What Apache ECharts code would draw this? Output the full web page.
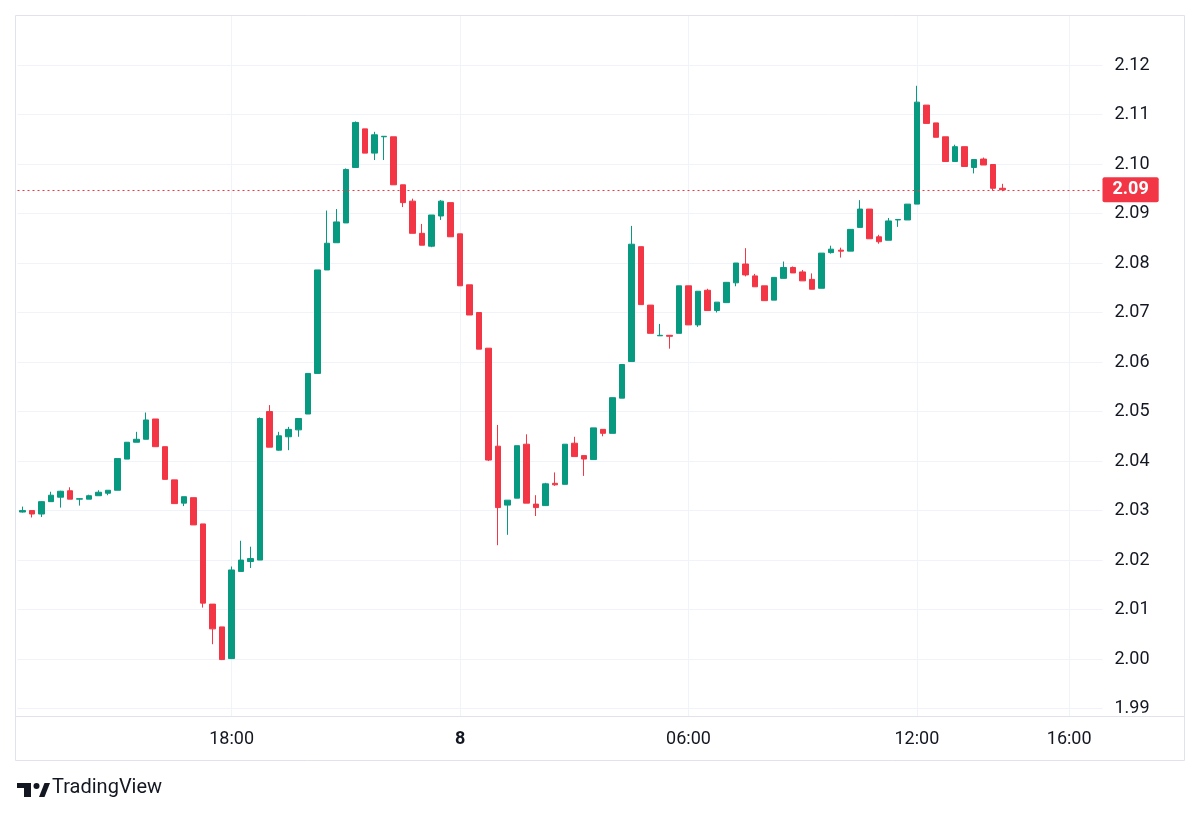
<!DOCTYPE html>
<html>
<head>
<meta charset="utf-8">
<title>15m chart</title>
<script src="https://cdn.jsdelivr.net/npm/echarts@6/dist/echarts.min.js"></script>
<style>
html, body { margin: 0; padding: 0; background: #fff; }
#chart { width: 1200px; height: 817px; }
</style>
</head>
<body>
<div id="chart"></div>
<script>
'use strict';

// 15 minute candles, day 7 12:30 -> day 8 14:15
var startDay = 7, startMinute = 12 * 60 + 30, stepMinute = 15;
var slotCount = 114;  // time axis keeps going (empty) up to 16:45

var opens = [
	2.0297, 2.0300, 2.0293, 2.0318, 2.0327, 2.0340, 2.0323, 2.0323, 2.0330, 2.0335,
	2.0341, 2.0404, 2.0438, 2.0444, 2.0485, 2.0429, 2.0362, 2.0315, 2.0326, 2.0273,
	2.0111, 2.0065, 2.0001, 2.0177, 2.0197, 2.0200, 2.0500, 2.0422, 2.0449, 2.0463,
	2.0495, 2.0577, 2.0786, 2.0841, 2.0881, 2.0993, 2.1071, 2.1022, 2.1055, 2.1055,
	2.0958, 2.0925, 2.0860, 2.0834, 2.0895, 2.0922, 2.0859, 2.0756, 2.0700, 2.0628,
	2.0430, 2.0311, 2.0325, 2.0434, 2.0313, 2.0310, 2.0355, 2.0353, 2.0436, 2.0411,
	2.0403, 2.0464, 2.0456, 2.0527, 2.0601, 2.0833, 2.0715, 2.0653, 2.0654, 2.0658,
	2.0754, 2.0675, 2.0745, 2.0704, 2.0720, 2.0760, 2.0798, 2.0774, 2.0754, 2.0725,
	2.0769, 2.0791, 2.0782, 2.0767, 2.0749, 2.0821, 2.0826, 2.0824, 2.0872, 2.0909,
	2.0853, 2.0846, 2.0887, 2.0887, 2.0919, 2.1119, 2.1083, 2.1055, 2.1005, 2.1035,
	2.0993, 2.1010, 2.0999, 2.0951
];
var closes = [
	2.0300, 2.0293, 2.0318, 2.0331, 2.0339, 2.0323, 2.0324, 2.0330, 2.0337, 2.0341,
	2.0405, 2.0438, 2.0444, 2.0483, 2.0429, 2.0363, 2.0314, 2.0328, 2.0271, 2.0113,
	2.0061, 1.9999, 2.0180, 2.0200, 2.0203, 2.0486, 2.0428, 2.0451, 2.0464, 2.0486,
	2.0577, 2.0786, 2.0840, 2.0883, 2.0989, 2.1084, 2.1022, 2.1059, 2.1056, 2.0958,
	2.0922, 2.0860, 2.0836, 2.0897, 2.0925, 2.0853, 2.0754, 2.0695, 2.0626, 2.0402,
	2.0306, 2.0321, 2.0431, 2.0315, 2.0306, 2.0354, 2.0352, 2.0434, 2.0409, 2.0404,
	2.0467, 2.0456, 2.0528, 2.0595, 2.0838, 2.0716, 2.0658, 2.0654, 2.0652, 2.0754,
	2.0675, 2.0743, 2.0704, 2.0721, 2.0761, 2.0800, 2.0776, 2.0752, 2.0724, 2.0771,
	2.0791, 2.0780, 2.0764, 2.0747, 2.0820, 2.0828, 2.0824, 2.0868, 2.0909, 2.0849,
	2.0843, 2.0885, 2.0888, 2.0919, 2.1125, 2.1082, 2.1054, 2.1005, 2.1035, 2.0995,
	2.1009, 2.0998, 2.0951, 2.0948
];
var lows = [
	2.0296, 2.0286, 2.0287, 2.0318, 2.0306, 2.0323, 2.0310, 2.0323, 2.0330, 2.0331,
	2.0341, 2.0404, 2.0438, 2.0444, 2.0429, 2.0363, 2.0314, 2.0309, 2.0271, 2.0104,
	2.0030, 1.9998, 2.0000, 2.0177, 2.0184, 2.0200, 2.0428, 2.0421, 2.0422, 2.0449,
	2.0495, 2.0577, 2.0786, 2.0841, 2.0881, 2.0993, 2.1022, 2.1008, 2.1008, 2.0958,
	2.0913, 2.0860, 2.0836, 2.0832, 2.0887, 2.0853, 2.0754, 2.0695, 2.0626, 2.0400,
	2.0230, 2.0251, 2.0325, 2.0315, 2.0289, 2.0310, 2.0350, 2.0353, 2.0409, 2.0370,
	2.0403, 2.0450, 2.0456, 2.0527, 2.0601, 2.0716, 2.0658, 2.0653, 2.0627, 2.0658,
	2.0675, 2.0671, 2.0704, 2.0700, 2.0720, 2.0753, 2.0773, 2.0752, 2.0724, 2.0725,
	2.0769, 2.0780, 2.0764, 2.0747, 2.0749, 2.0819, 2.0811, 2.0824, 2.0872, 2.0849,
	2.0839, 2.0846, 2.0873, 2.0887, 2.0919, 2.1082, 2.1054, 2.1005, 2.1005, 2.0995,
	2.0981, 2.0998, 2.0946, 2.0945
];
var highs = [
	2.0308, 2.0300, 2.0319, 2.0338, 2.0340, 2.0347, 2.0325, 2.0332, 2.0341, 2.0341,
	2.0405, 2.0438, 2.0459, 2.0498, 2.0485, 2.0429, 2.0362, 2.0328, 2.0326, 2.0273,
	2.0111, 2.0065, 2.0187, 2.0239, 2.0227, 2.0488, 2.0513, 2.0459, 2.0469, 2.0486,
	2.0577, 2.0786, 2.0906, 2.0909, 2.0991, 2.1086, 2.1071, 2.1065, 2.1056, 2.1055,
	2.0958, 2.0930, 2.0879, 2.0897, 2.0927, 2.0922, 2.0859, 2.0756, 2.0700, 2.0628,
	2.0473, 2.0321, 2.0431, 2.0454, 2.0331, 2.0356, 2.0377, 2.0434, 2.0449, 2.0411,
	2.0467, 2.0464, 2.0528, 2.0595, 2.0875, 2.0833, 2.0715, 2.0677, 2.0654, 2.0754,
	2.0754, 2.0743, 2.0748, 2.0721, 2.0761, 2.0800, 2.0830, 2.0778, 2.0754, 2.0771,
	2.0803, 2.0793, 2.0786, 2.0779, 2.0820, 2.0835, 2.0831, 2.0868, 2.0927, 2.0909,
	2.0857, 2.0891, 2.0888, 2.0919, 2.1158, 2.1119, 2.1083, 2.1055, 2.1039, 2.1035,
	2.1009, 2.1013, 2.0999, 2.0960
];

// time scale labels
var tickCats = ['07 18:00', '08 00:00', '08 06:00', '08 12:00', '08 16:00'];
var tickTexts = ['18:00', '8', '06:00', '12:00', '16:00'];

// visible price range
var yMin = 1.9884, yMax = 2.1301;

var UP = '#089981', DOWN = '#F23645';
var GRID = '#f0f3fa', BORDER = '#e0e3eb', TEXT = '#131722';
var FONT = 'Roboto';

function pad(n) { return (n < 10 ? '0' : '') + n; }

var categories = [];
for (var i = 0; i < slotCount; i++) {
	var m = startMinute + i * stepMinute;
	var d = startDay + Math.floor(m / 1440);
	m = m % 1440;
	categories.push(pad(d) + ' ' + pad(Math.floor(m / 60)) + ':' + pad(m % 60));
}

var candles = opens.map(function (o, i) {
	return [o, closes[i], lows[i], highs[i]];
});
var lastClose = closes[closes.length - 1];

var chart = echarts.init(document.getElementById('chart'));

var option = {
	animation: false,
	backgroundColor: '#ffffff',
	textStyle: { fontFamily: FONT },
	grid: { left: 17.5, right: 97.5, top: 15, bottom: 100.5 },
	xAxis: {
		type: 'category',
		data: categories,
		boundaryGap: true,
		axisLine: { show: false },
		axisTick: { show: false },
		splitLine: { show: false },
		axisLabel: {
			interval: function (idx, val) { return tickCats.indexOf(val) >= 0; },
			formatter: function (val) {
				var t = tickTexts[tickCats.indexOf(val)];
				return t === '8' ? '{b|8}' : t;
			},
			rich: { b: { fontWeight: 'bold', fontSize: 18, color: TEXT, fontFamily: FONT } },
			color: TEXT,
			fontSize: 18,
			margin: 14
		}
	},
	yAxis: {
		type: 'value',
		position: 'right',
		min: yMin,
		max: yMax,
		minInterval: 0.01,
		maxInterval: 0.01,
		axisLine: { show: false },
		axisTick: { show: false },
		splitLine: { lineStyle: { color: GRID, width: 1 } },
		axisLabel: {
			color: TEXT,
			fontSize: 18,
			margin: 12,
			formatter: function (v) {
				//  no label right on the frame edges
				if (v - yMin < 0.001 || yMax - v < 0.005) return '';
				return v.toFixed(2);
			}
		}
	},
	series: [
		{
			// vertical grid lines at the time labels
			type: 'line',
			data: [],
			silent: true,
			markLine: {
				silent: true,
				z: 1,
				symbol: ['none', 'none'],
				label: { show: false },
				lineStyle: { color: GRID, type: 'solid', width: 1 },
				data: tickCats.map(function (c) { return { xAxis: c }; })
			}
		},
		{
			type: 'candlestick',
			data: candles,
			barWidth: 6,
			clip: false,
			itemStyle: {
				color: UP,
				color0: DOWN,
				borderColor: UP,
				borderColor0: DOWN,
				borderWidth: 1
			},
			markLine: {
				silent: true,
				precision: 4,
				symbol: ['none', 'none'],
				lineStyle: { color: DOWN, type: [2, 3], width: 1 },
				label: {
					position: 'end',
					distance: 0,
					formatter: function () { return lastClose.toFixed(2); },
					color: '#ffffff',
					backgroundColor: DOWN,
					fontWeight: 'bold',
					fontSize: 18,
					fontFamily: FONT,
					padding: [4, 10, 3, 10],
					borderRadius: 2
				},
				data: [{
					yAxis: lastClose,
					lineStyle: { color: DOWN, type: [2, 3], width: 1, opacity: 1 }
				}]
			}
		}
	],
	graphic: [
		{
			type: 'rect', silent: true, z: 100,
			shape: { x: 15.5, y: 15.5, width: 1169, height: 745 },
			style: { fill: 'none', stroke: BORDER, lineWidth: 1 }
		},
		{
			type: 'line', silent: true, z: 100,
			shape: { x1: 15.5, y1: 716.5, x2: 1184.5, y2: 716.5 },
			style: { stroke: BORDER, lineWidth: 1 }
		},
		//  logo
		{
			type: 'group', silent: true, left: 17, top: 783,
			children: [
				{ type: 'rect', shape: { x: 0, y: 0, width: 14, height: 5 }, style: { fill: TEXT } },
				{ type: 'rect', shape: { x: 7, y: 0, width: 7, height: 14 }, style: { fill: TEXT } },
				{ type: 'circle', shape: { cx: 19.5, cy: 3, r: 3 }, style: { fill: TEXT } },
				{ type: 'polygon', shape: { points: [[22, 14], [27.5, 14], [33, 0], [27.5, 0]] }, style: { fill: TEXT } }
			]
		},
		{
			type: 'text', silent: true, left: 52, top: 778,
			style: { text: 'TradingView', fill: TEXT, font: '20px ' + FONT }
		}
	]
};

chart.setOption(option);
</script>
</body>
</html>
